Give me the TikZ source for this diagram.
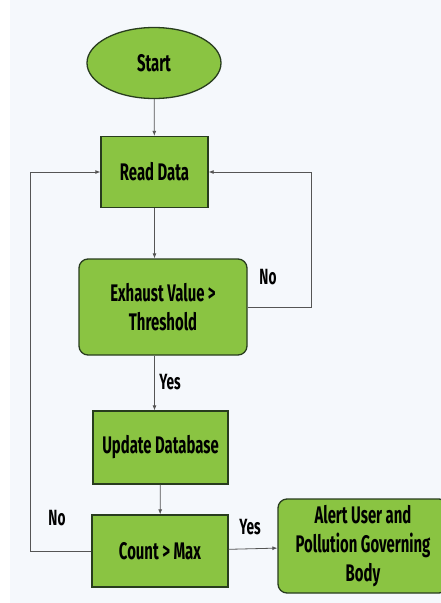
\documentclass[tikz,border=0pt]{standalone}
\usepackage{fontspec}
\newfontfamily\gfont[FakeStretch=0.62]{Fira Sans}
\usetikzlibrary{arrows.meta,shapes.geometric}
\definecolor{boxgreen}{RGB}{138,196,66}
\definecolor{boxline}{RGB}{40,60,30}
\definecolor{wireline}{RGB}{85,85,85}
\definecolor{paper}{RGB}{245,248,252}

\begin{document}
\begin{tikzpicture}[x=1pt, y=-1pt,
    box/.style={draw=boxline, line width=1.3pt, fill=boxgreen, align=center,
        inner sep=0pt, font=\gfont\bfseries\fontsize{24}{29}\selectfont},
    wire/.style={draw=wireline, line width=0.8pt, -{Latex[length=5pt,width=4pt]}},
    tag/.style={font=\gfont\bfseries\fontsize{22}{24}\selectfont}]
    \clip (0,0) rectangle (441,603);
    \fill[white] (0,0) rectangle (441,603);
    \fill[paper] (10,0) rectangle (441,603);

    \node[box, ellipse, minimum width=134pt, minimum height=71pt] (start) at (154,63) {Start};
    \node[box, minimum width=107pt, minimum height=71pt] (read) at (154.5,172) {Read Data};
    \node[box, rounded corners=9pt, minimum width=168pt, minimum height=96pt] (exhaust) at (163,307) {Exhaust Value >\\Threshold};
    \node[box, minimum width=135pt, minimum height=73pt] (update) at (160.5,447.5) {Update Database};
    \node[box, minimum width=136pt, minimum height=72pt] (count) at (160,551) {Count > Max};
    \node[box, rounded corners=9pt, minimum width=170pt, minimum height=94pt] (alert) at (363,546) {Alert User and\\Pollution Governing\\Body};

    \coordinate (rloop) at (311,172);
    \coordinate (lloop) at (30,172);

    \draw[wire] (start) -- (read);
    \draw[wire] (read.south) -- (read.south |- exhaust.north);
    \draw[wire] (exhaust.east) -| (rloop) -- (read.east);
    \draw[wire] (exhaust.south -| read.south) -- (update.north -| read.south);
    \draw[wire] (update) -- (count);
    \draw[wire] (count.west) -| (lloop) -- (read.west);
    \draw[wire] (count) -- (alert);

    \node[tag] (no1) at (268,277) {No};
    \node[tag] (yes1) at (170,382) {Yes};
    \node[tag] (no2) at (57,518) {No};
    \node[tag] (yes2) at (250,527) {Yes};
\end{tikzpicture}
\end{document}
